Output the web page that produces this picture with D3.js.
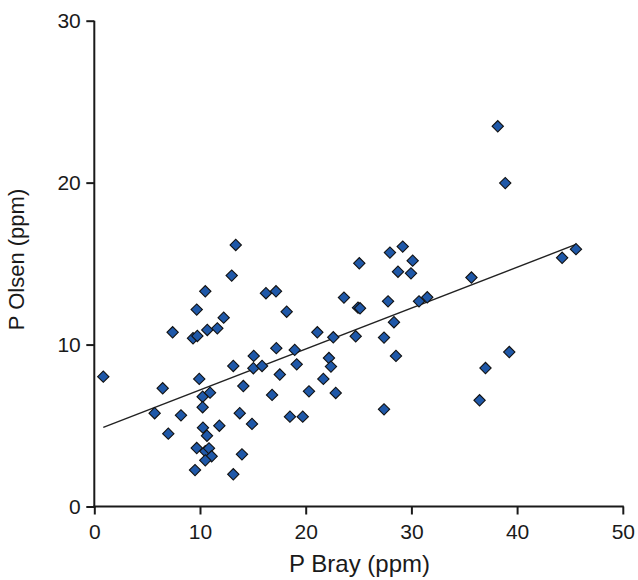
<!DOCTYPE html>
<html>
<head>
<meta charset="utf-8">
<script src="https://cdn.jsdelivr.net/npm/d3@7"></script>
<style>
  html, body { margin: 0; padding: 0; background: #fff; }
  svg { display: block; font-family: Arial, "Liberation Sans", sans-serif; }
</style>
</head>
<body>
<svg id="chart" width="638" height="580"></svg>
<script>
// ---------- data ----------
var pBray = [
  13.38, 13.0, 10.5, 9.69, 12.24, 7.41, 10.69, 11.64, 9.34, 9.75,
  0.85, 15.08, 13.15, 15.05, 15.87, 9.93, 6.47, 14.1, 10.25, 10.95,
  5.71, 8.2, 10.25, 13.76, 14.92, 11.83, 10.28, 10.66, 7.0, 9.69,
  10.5, 10.85, 11.1, 10.5, 13.97, 9.53, 13.15,
  16.24, 17.19, 18.2, 25.07, 27.97, 29.18, 30.12, 28.73, 29.96, 23.62,
  27.79, 30.72, 31.5, 24.95, 25.14, 28.35, 21.1, 22.61, 24.73, 27.41,
  17.22, 18.96, 22.2, 22.39, 19.15, 28.54, 17.55, 21.67, 16.82, 20.31,
  22.84, 18.51, 19.72, 27.41,
  38.17, 38.88, 45.57, 44.26, 35.68, 39.26, 37.01, 36.45
];
var pOlsen = [
  16.15, 14.26, 13.29, 12.16, 11.66, 10.76, 10.9, 11.0, 10.39, 10.53,
  8.02, 9.3, 8.68, 8.54, 8.68, 7.88, 7.3, 7.44, 6.78, 7.03,
  5.76, 5.63, 6.13, 5.76, 5.1, 4.99, 4.87, 4.37, 4.5, 3.61,
  3.41, 3.59, 3.1, 2.85, 3.22, 2.25, 1.99,
  13.17, 13.29, 12.03, 15.02, 15.68, 16.05, 15.18, 14.5, 14.4, 12.9,
  12.67, 12.67, 12.92, 12.28, 12.24, 11.38, 10.76, 10.45, 10.51, 10.43,
  9.78, 9.67, 9.17, 8.64, 8.78, 9.3, 8.15, 7.88, 6.89, 7.11,
  7.01, 5.55, 5.55, 6.0,
  23.48, 19.97, 15.89, 15.36, 14.14, 9.54, 8.55, 6.56
];
var xTicks = [0, 10, 20, 30, 40, 50];
var yTicks = [0, 10, 20, 30];
var xTitle = "P Bray (ppm)";
var yTitle = "P Olsen (ppm)";

var points = pBray.map(function (v, i) { return { x: v, y: pOlsen[i] }; });

// ---------- least-squares trend line ----------
var mx = d3.mean(points, function (d) { return d.x; });
var my = d3.mean(points, function (d) { return d.y; });
var sxy = d3.sum(points, function (d) { return (d.x - mx) * (d.y - my); });
var sxx = d3.sum(points, function (d) { return (d.x - mx) * (d.x - mx); });
var slope = sxy / sxx, icept = my - slope * mx;
var xExt = d3.extent(points, function (d) { return d.x; });
var fit = xExt.map(function (v) { return { x: v, y: icept + slope * v }; });

// ---------- scales ----------
var svg = d3.select("#chart");
var x = d3.scaleLinear().domain([0, 50]).range([94.3, 622.8]);
var y = d3.scaleLinear().domain([0, 30]).range([506.5, 20.7]);

var ink = "#1a1a1a";

var gx = svg.append("g").attr("transform", "translate(0," + y(0) + ")")
  .call(d3.axisBottom(x).tickValues(xTicks).tickSize(8).tickSizeOuter(0).tickPadding(9.5));
var gy = svg.append("g").attr("transform", "translate(" + x(0) + ",0)")
  .call(d3.axisLeft(y).tickValues(yTicks).tickSize(8).tickSizeOuter(0).tickPadding(5.5));
[gx, gy].forEach(function (g) {
  g.select(".domain").attr("stroke", ink).attr("stroke-width", 2);
  g.selectAll(".tick line").attr("stroke", ink).attr("stroke-width", 2);
  g.selectAll(".tick text").attr("fill", ink).style("font-size", "21px").style("font-family", "Arial, 'Liberation Sans', sans-serif");
});
// y domain runs down to the x axis line
gy.select(".domain").attr("d", "M0," + y(30) + "V" + (y(0) + 1));
gx.select(".domain").attr("d", "M" + (x(0) - 1) + ",0H" + (x(50) + 1));

svg.append("text").attr("x", (x(0) + x(50)) / 2 + 1).attr("y", 572)
  .attr("text-anchor", "middle").attr("fill", ink).style("font-size", "24px").text(xTitle);
svg.append("text").attr("transform", "translate(24," + ((182 + 337) / 2) + ") rotate(-90)")
  .attr("text-anchor", "middle").attr("fill", ink).style("font-size", "22px").text(yTitle);

// ---------- trend line ----------
svg.append("path").datum(fit)
  .attr("d", d3.line().x(function (d) { return x(d.x); }).y(function (d) { return y(d.y); }))
  .attr("fill", "none").attr("stroke", "#222").attr("stroke-width", 1.4);

// ---------- diamonds ----------
svg.append("g").selectAll("path").data(points).enter().append("path")
  .attr("d", d3.symbol().type(d3.symbolSquare).size(64))
  .attr("transform", function (d) { return "translate(" + x(d.x) + "," + y(d.y) + ") rotate(45)"; })
  .attr("fill", "#1f58a8").attr("stroke", "#111").attr("stroke-width", 1.1);
</script>
</body>
</html>
